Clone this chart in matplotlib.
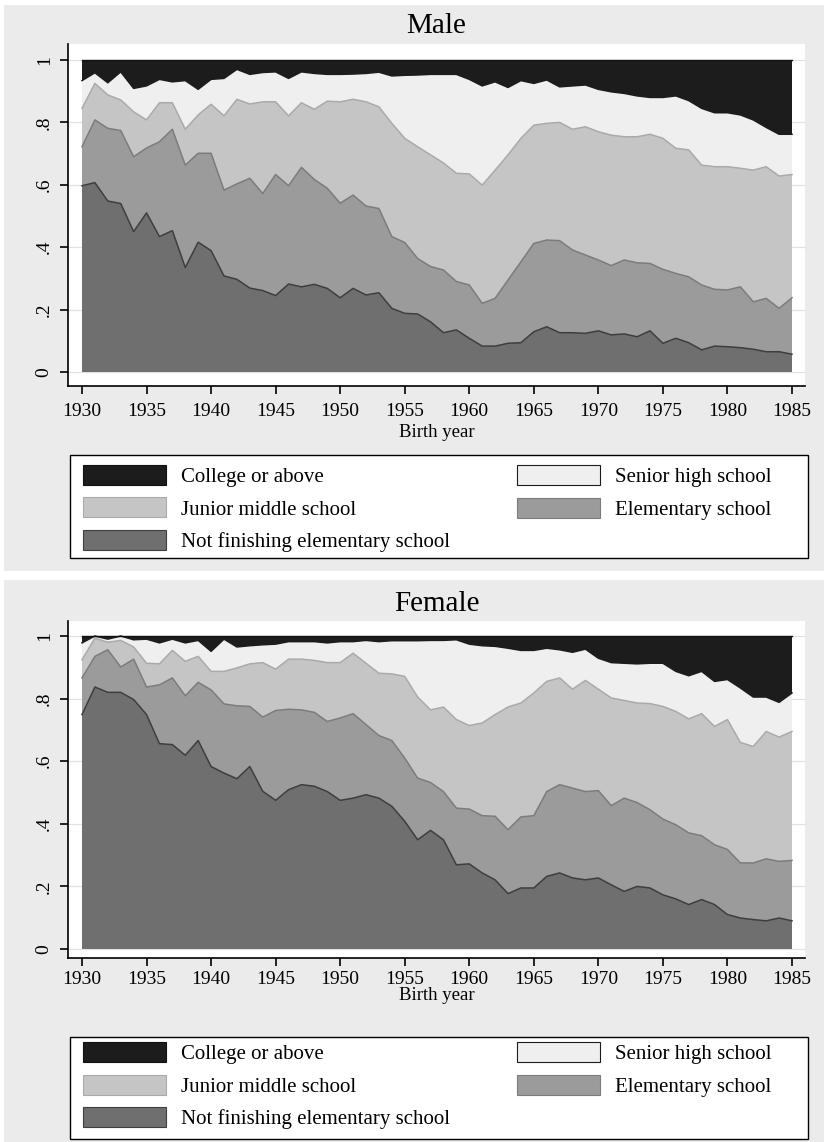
import numpy as np
import matplotlib
matplotlib.use("Agg")
import matplotlib.pyplot as plt
from matplotlib.patches import Rectangle, Patch

# ---------------- data ----------------
years = list(range(1930, 1986))
categories = ["Not finishing elementary school", "Elementary school",
              "Junior middle school", "Senior high school", "College or above"]
x_ticks = [1930, 1935, 1940, 1945, 1950, 1955, 1960, 1965, 1970, 1975, 1980, 1985]
y_ticks = [0, 0.2, 0.4, 0.6, 0.8, 1.0]
y_tick_labels = ["0", ".2", ".4", ".6", ".8", "1"]

# cumulative shares (upper edge of each band)
male_upto_notfinish = [.597, .607, .548, .540, .450, .510, .434, .453, .335, .416,
                       .389, .308, .297, .269, .261, .245, .282, .273, .281, .268,
                       .238, .268, .247, .254, .204, .188, .186, .161, .126, .135,
                       .108, .083, .083, .092, .094, .129, .145, .126, .126, .124,
                       .132, .119, .122, .113, .132, .092, .108, .094, .071, .083,
                       .081, .078, .073, .065, .065, .057]
male_upto_elementary = [.722, .808, .781, .774, .690, .718, .738, .778, .663, .701,
                        .701, .583, .603, .621, .572, .633, .597, .656, .617, .589,
                        .541, .567, .532, .524, .434, .415, .364, .338, .327, .290,
                        .279, .220, .236, .295, .353, .412, .423, .421, .391, .375,
                        .359, .341, .359, .350, .348, .329, .316, .305, .279, .265,
                        .263, .273, .225, .236, .204, .238]
male_upto_junior = [.845, .925, .888, .872, .834, .808, .863, .863, .778, .824,
                    .858, .821, .874, .859, .866, .866, .821, .863, .842, .868,
                    .866, .874, .866, .850, .797, .749, .722, .696, .670, .637,
                    .635, .599, .647, .696, .749, .791, .797, .800, .778, .786,
                    .770, .759, .754, .754, .762, .749, .717, .712, .663, .658,
                    .658, .653, .647, .658, .628, .633]
male_upto_senior = [.934, .959, .927, .962, .909, .917, .938, .930, .934, .906,
                    .938, .941, .970, .954, .960, .962, .941, .962, .957, .954,
                    .954, .955, .957, .961, .949, .951, .952, .954, .954, .954,
                    .938, .917, .930, .912, .934, .925, .936, .914, .917, .920,
                    .906, .898, .893, .885, .880, .880, .885, .870, .845, .831,
                    .831, .824, .808, .784, .762, .762]

female_upto_notfinish = [.749, .837, .820, .820, .797, .749, .656, .653, .619, .666,
                         .583, .562, .544, .583, .504, .475, .509, .525, .520, .503,
                         .475, .482, .493, .482, .456, .408, .349, .379, .349, .269,
                         .272, .243, .221, .177, .195, .195, .232, .243, .227, .221,
                         .227, .205, .184, .200, .195, .173, .160, .142, .158, .142,
                         .110, .099, .094, .090, .099, .090]
female_upto_elementary = [.866, .935, .956, .901, .926, .837, .844, .866, .809, .852,
                          .828, .783, .777, .775, .741, .762, .766, .764, .756, .727,
                          .738, .752, .717, .682, .666, .610, .546, .532, .503, .450,
                          .447, .426, .424, .381, .422, .426, .503, .525, .514, .503,
                          .506, .458, .482, .468, .445, .415, .397, .371, .362, .333,
                          .318, .275, .275, .288, .280, .283]
female_upto_junior = [.924, .993, .980, .986, .965, .913, .911, .954, .919, .935,
                      .887, .887, .898, .911, .915, .894, .926, .926, .922, .915,
                      .915, .945, .913, .881, .879, .871, .805, .764, .773, .733,
                      .714, .722, .749, .773, .786, .818, .855, .866, .830, .858,
                      .830, .802, .794, .786, .784, .775, .759, .735, .752, .711,
                      .733, .660, .647, .695, .677, .695]
female_upto_senior = [.978, 1.00, .990, 1.00, .988, .990, .978, .990, .978, .986,
                      .951, .990, .965, .969, .972, .974, .982, .982, .982, .978,
                      .982, .982, .986, .982, .985, .985, .985, .986, .986, .988,
                      .974, .969, .967, .961, .954, .954, .961, .956, .948, .958,
                      .929, .915, .913, .911, .913, .913, .887, .873, .887, .855,
                      .861, .834, .805, .805, .788, .818]

# ---------------- style ----------------
fill_colors = ["#6f6f6f", "#9b9b9b", "#c5c5c5", "#efefef", "#1c1c1c"]
edge_colors = ["#3e3e3e", "#7c7c7c", "#aaaaaa", "#1c1c1c", "#111111"]
SERIF = ["Liberation Serif", "DejaVu Serif"]
plt.rcParams["font.family"] = SERIF

W, H = 824, 1142
fig = plt.figure(figsize=(W / 100, H / 100), dpi=100)
fig.patch.set_facecolor("white")


def fx(px):
    return px / W


def fy(py):
    return 1 - py / H


def panel(title, bounds, geom):
    b1, b2, b3, b4 = [np.array(b) for b in bounds]
    (p_top, p_bot, ax_top, ax_bot, y1_px, y0_px, title_base,
     xlab_base, tickpad, leg_top, leg_bot, row1_top) = geom
    # gray graph region
    fig.add_artist(Rectangle((fx(4), fy(p_bot)), fx(824) - fx(4), fy(p_top) - fy(p_bot),
                             transform=fig.transFigure, facecolor="#ebebeb",
                             edgecolor="none", zorder=-10))
    left, right = 68, 805
    ax = fig.add_axes([fx(left), fy(ax_bot), fx(right) - fx(left), fy(ax_top) - fy(ax_bot)])
    ax.set_facecolor("white")
    sx = (792 - 82) / 55.0
    ax.set_xlim(1930 - (82 - left) / sx, 1985 + (right - 792) / sx)
    sy = (y0_px - y1_px)
    ax.set_ylim(-(ax_bot - y0_px) / sy, 1 + (y1_px - ax_top) / sy)

    cum = np.vstack([b1, b2, b3, b4, np.ones(len(years))])
    shares = np.diff(np.vstack([np.zeros(len(years)), cum]), axis=0)
    ax.stackplot(years, shares, colors=fill_colors, linewidth=0, zorder=2)
    for b, ec in zip([b1, b2, b3, b4], edge_colors):
        ax.plot(years, b, color=ec, lw=1.1, zorder=3)
    ax.plot([1930, 1985], [1, 1], color="#111111", lw=1.0, zorder=3)

    ax.set_xticks(x_ticks)
    ax.set_yticks(y_ticks)
    ax.set_yticklabels(y_tick_labels, rotation=90, va="center")
    ax.yaxis.grid(True, color="#e2e2e2", lw=0.9, zorder=0)
    ax.set_axisbelow(True)
    for s in ["top", "right"]:
        ax.spines[s].set_visible(False)
    for s in ["left", "bottom"]:
        ax.spines[s].set_linewidth(1.2)
        ax.spines[s].set_color("black")
    ax.tick_params(axis="x", direction="out", length=6, width=1.2, labelsize=14, pad=tickpad)
    ax.tick_params(axis="y", direction="out", length=6, width=1.2, labelsize=14, pad=5)

    cx = fx((left + right) / 2)
    fig.text(cx, fy(title_base), title, ha="center", va="baseline", fontsize=21)
    fig.text(cx, fy(xlab_base), "Birth year", ha="center", va="baseline", fontsize=13.5)

    # legend frame
    fig.add_artist(Rectangle((fx(70), fy(leg_bot)), fx(808) - fx(70), fy(leg_top) - fy(leg_bot),
                             transform=fig.transFigure, facecolor="white",
                             edgecolor="black", lw=1.0, zorder=1))
    h = [Patch(facecolor=fill_colors[i], edgecolor=edge_colors[i], lw=0.8) for i in range(5)]
    common = dict(loc="upper left", frameon=False, borderpad=0, borderaxespad=0,
                  handlelength=4.0, handleheight=1.1, handletextpad=0.7,
                  labelspacing=0.5, prop={"family": SERIF, "size": 15})
    l1 = fig.legend([h[4], h[2], h[0]], [categories[4], categories[2], categories[0]],
                    bbox_to_anchor=(fx(83), fy(row1_top)), **common)
    l2 = fig.legend([h[3], h[1]], [categories[3], categories[1]],
                    bbox_to_anchor=(fx(517), fy(row1_top)), **common)
    l1.set_zorder(5)
    l2.set_zorder(5)
    return ax


panel("Male", [male_upto_notfinish, male_upto_elementary, male_upto_junior, male_upto_senior],
      (5, 571, 44, 386, 60, 372, 33, 437, 6, 455, 558, 465))
panel("Female", [female_upto_notfinish, female_upto_elementary, female_upto_junior, female_upto_senior],
      (580, 1142, 621, 958, 636, 949, 611, 1000, 3, 1037, 1139, 1042))

fig.savefig("out.png", dpi=100)
